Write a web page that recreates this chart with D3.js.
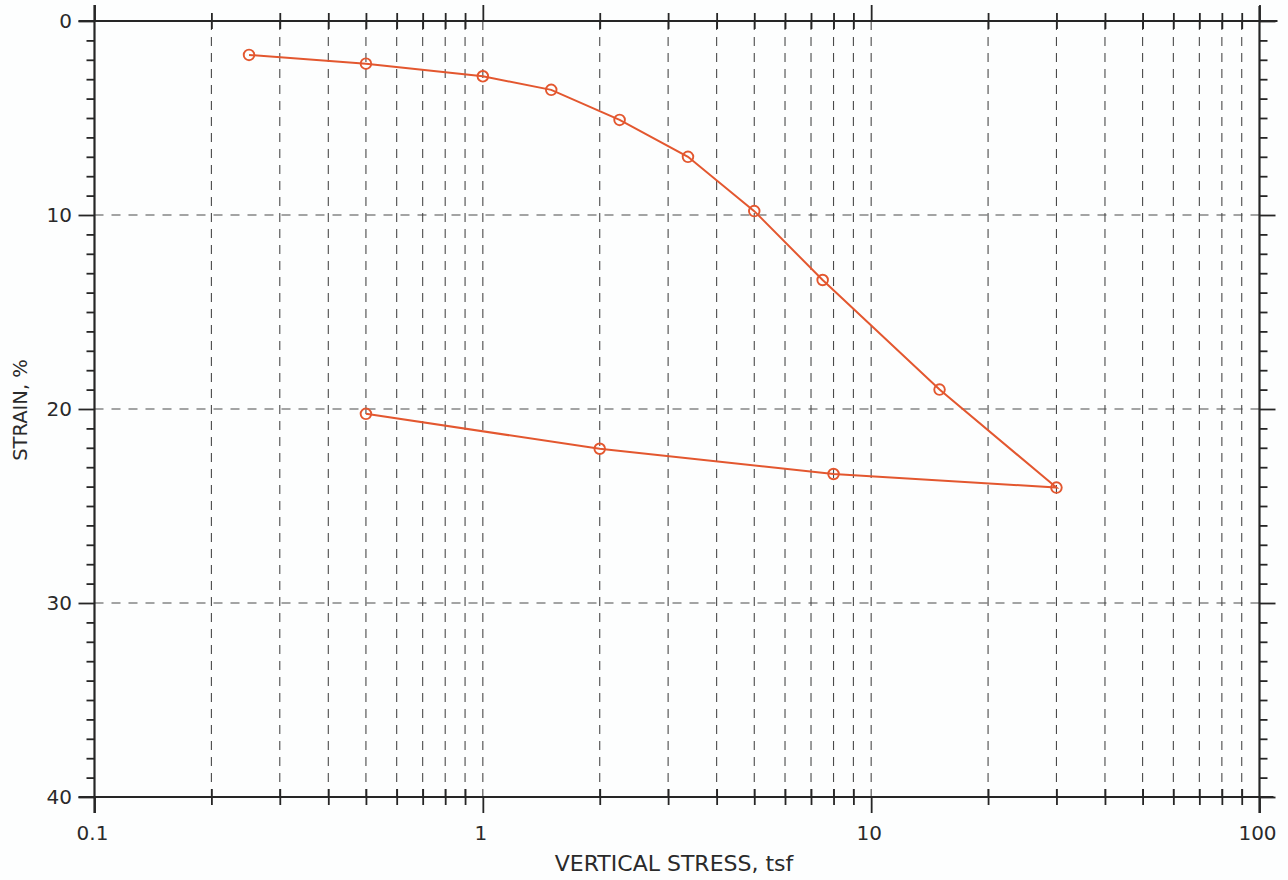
<!DOCTYPE html>
<html>
<head>
<meta charset="utf-8">
<script src="https://cdn.jsdelivr.net/npm/d3@7"></script>
<style>
  html, body { margin: 0; padding: 0; background: #fdfefe; }
  svg { display: block; }
  text { font-family: "DejaVu Sans", "Liberation Sans", sans-serif; fill: #2a2a2a; }
</style>
</head>
<body>
<svg id="chart" width="1288" height="880"></svg>
<script>
// Consolidation test: vertical stress (tsf, log scale) vs strain (%)
const stressLoad   = [0.25, 0.5, 1, 1.5, 2.25, 3.375, 5, 7.5, 15, 30, 8, 2, 0.5];
const strainLoad   = [1.75, 2.2, 2.85, 3.55, 5.1, 7.0, 9.8, 13.35, 19.0, 24.05, 23.35, 22.05, 20.25];

const xMajorTicks  = [0.1, 1, 10, 100];
const xTickLabels  = ["0.1", "1", "10", "100"];
const xMinorTicks  = [0.2,0.3,0.4,0.5,0.6,0.7,0.8,0.9, 2,3,4,5,6,7,8,9, 20,30,40,50,60,70,80,90];
const yMajorTicks  = [0, 10, 20, 30, 40];
const yTickLabels  = ["0", "10", "20", "30", "40"];
const yMinorTicks  = d3.range(1, 40).filter(v => v % 10 !== 0);
const xGridValues  = [0.2,0.3,0.4,0.5,0.6,0.7,0.8,0.9, 1, 2,3,4,5,6,7,8,9, 10, 20,30,40,50,60,70,80,90];
const yGridValues  = [10, 20, 30];

const xTitle = "VERTICAL STRESS, tsf";
const yTitle = "STRAIN, %";

const svg = d3.select("#chart");
const plotL = 94.5, plotR = 1259.5, plotT = 21, plotB = 797;

const x = d3.scaleLog().domain([0.1, 100]).range([plotL, plotR]);
const y = d3.scaleLinear().domain([0, 40]).range([plotT, plotB]);

const axisColor = "#262626";
const gridColor = "#4a4a4a";

// dashed grid
const grid = svg.append("g").attr("class", "grid");
grid.selectAll("line.vg").data(xGridValues).join("line")
  .attr("class", "vg")
  .attr("x1", d => x(d)).attr("x2", d => x(d))
  .attr("y1", plotT).attr("y2", plotB)
  .attr("stroke", gridColor).attr("stroke-width", 1.1)
  .attr("stroke-dasharray", "9,7");
grid.selectAll("line.hg").data(yGridValues).join("line")
  .attr("class", "hg")
  .attr("x1", plotL).attr("x2", plotR)
  .attr("y1", d => y(d)).attr("y2", d => y(d))
  .attr("stroke", gridColor).attr("stroke-width", 1.1)
  .attr("stroke-dasharray", "9,8");

function styleAxis(g) {
  g.select(".domain").remove();
  g.selectAll(".tick line").attr("stroke", axisColor).attr("stroke-width", 1.8);
  g.selectAll(".tick text").remove();
}

// x axes: minor ticks cross the frame, major ticks point outward
[[plotB, d3.axisBottom], [plotT, d3.axisTop]].forEach(([yy, axisFn]) => {
  svg.append("g").attr("transform", `translate(0,${yy})`)
    .call(axisFn(x).tickValues(xMinorTicks).tickSize(8)).call(styleAxis);
  svg.append("g").attr("transform", `translate(0,${yy})`)
    .call(axisFn(x).tickValues(xMinorTicks).tickSize(-8)).call(styleAxis);
  svg.append("g").attr("transform", `translate(0,${yy})`)
    .call(axisFn(x).tickValues(xMajorTicks).tickSize(16)).call(styleAxis);
});

// y axes: ticks point outward
[[plotL, d3.axisLeft], [plotR, d3.axisRight]].forEach(([xx, axisFn]) => {
  svg.append("g").attr("transform", `translate(${xx},0)`)
    .call(axisFn(y).tickValues(yMinorTicks).tickSize(8)).call(styleAxis);
  svg.append("g").attr("transform", `translate(${xx},0)`)
    .call(axisFn(y).tickValues(yMajorTicks).tickSize(16)).call(styleAxis);
});

// frame lines, extended past the corners
const frame = svg.append("g").attr("stroke", axisColor).attr("stroke-width", 2.2);
frame.append("line").attr("x1", plotL - 16).attr("x2", plotR + 18).attr("y1", plotT).attr("y2", plotT);
frame.append("line").attr("x1", plotL - 16).attr("x2", plotR + 14).attr("y1", plotB).attr("y2", plotB);
frame.append("line").attr("x1", plotL).attr("x2", plotL).attr("y1", plotT - 16).attr("y2", plotB + 16);
frame.append("line").attr("x1", plotR).attr("x2", plotR).attr("y1", plotT - 15).attr("y2", plotB + 16);

// tick labels
svg.append("g").selectAll("text").data(xMajorTicks).join("text")
  .attr("x", d => x(d) - 2).attr("y", 840)
  .attr("text-anchor", "middle").attr("font-size", 20)
  .text((d, i) => xTickLabels[i]);
svg.append("g").selectAll("text").data(yMajorTicks).join("text")
  .attr("x", 72).attr("y", d => y(d) + 7.3)
  .attr("text-anchor", "end").attr("font-size", 20)
  .text((d, i) => yTickLabels[i]);

// axis titles
svg.append("text").attr("x", 674).attr("y", 871)
  .attr("text-anchor", "middle").attr("font-size", 22).text(xTitle);
svg.append("text").attr("transform", `translate(27,410) rotate(-90)`)
  .attr("text-anchor", "middle").attr("font-size", 19.5).text(yTitle);

// test curve
const pts = stressLoad.map((s, i) => [s, strainLoad[i]]);
const markColor = "#e3572f";
svg.append("path").datum(pts)
  .attr("fill", "none").attr("stroke", markColor).attr("stroke-width", 2)
  .attr("d", d3.line().x(d => x(d[0])).y(d => y(d[1])));
svg.append("g").selectAll("circle").data(pts).join("circle")
  .attr("cx", d => x(d[0])).attr("cy", d => y(d[1])).attr("r", 5.3)
  .attr("fill", "none").attr("stroke", markColor).attr("stroke-width", 1.9);
</script>
</body>
</html>
